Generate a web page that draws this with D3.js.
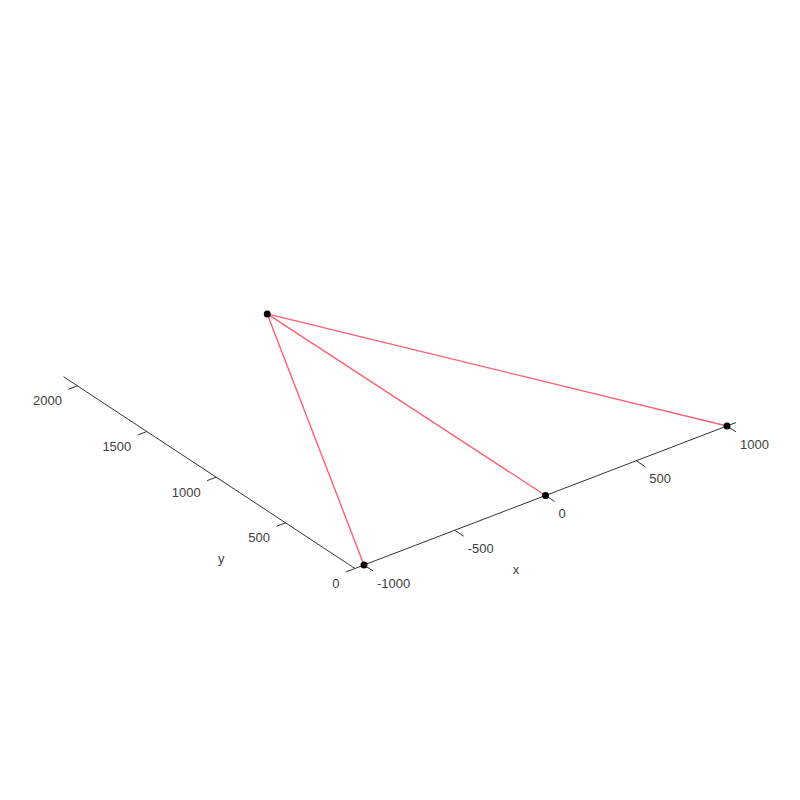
<!DOCTYPE html>
<html>
<head>
<meta charset="utf-8">
<script src="https://cdnjs.cloudflare.com/ajax/libs/d3/7.8.5/d3.min.js"></script>
<style>
  html, body { margin: 0; padding: 0; background: #fff; }
  svg { display: block; }
  text { font-family: "Liberation Sans", Arial, sans-serif; font-size: 13px; fill: #404040; }
</style>
</head>
<body>
<svg id="chart" width="800" height="800"></svg>
<script>
// data
var point_x = [-1000, 0, 1000, -8];
var point_y = [0, 0, 0, 1995];
var edge_from = [3, 3, 3];
var edge_to = [0, 1, 2];
var x_ticks = [-1000, -500, 0, 500, 1000];
var y_ticks = [0, 500, 1000, 1500, 2000];
var x_limits = [-1050, 1050];
var y_limits = [0, 2100];

var svg = d3.select("#chart");

// --------------------------------------------------------------------
// view from above: each data axis adds a shift on both screen directions
var x_to_h = d3.scaleLinear().domain([-1000, 1000]).range([0, 363]);
var x_to_v = d3.scaleLinear().domain([-1000, 1000]).range([0, -139]);
var y_to_h = d3.scaleLinear().domain([0, 2000]).range([0, -277.5]);
var y_to_v = d3.scaleLinear().domain([0, 2000]).range([0, -182.6]);
var origin = [364, 565];        // where x = -1000, y = 0 lands

function sx(x, y) { return origin[0] + x_to_h(x) + y_to_h(y); }
function sy(x, y) { return origin[1] + x_to_v(x) + y_to_v(y); }

function seg(parent, x1, y1, x2, y2, color, width)
{
  parent.append("line")
        .attr("x1", sx(x1, y1)).attr("y1", sy(x1, y1))
        .attr("x2", sx(x2, y2)).attr("y2", sy(x2, y2))
        .attr("stroke", color)
        .attr("stroke-width", width);
}

// ==================================================
// axes
var axis_color = "#333333";
var axes = svg.append("g");
seg(axes, x_limits[0], 0, x_limits[1], 0, axis_color, 1);
seg(axes, x_limits[0], y_limits[0], x_limits[0], y_limits[1], axis_color, 1);

x_ticks.forEach(function(t) {
  seg(axes, t, 0, t, -65, axis_color, 1);
  axes.append("text")
      .attr("x", sx(t, 0) + 13)
      .attr("y", sy(t, 0) + 18)
      .attr("dy", ".35em")
      .attr("text-anchor", "start")
      .text(t);
});

y_ticks.forEach(function(t) {
  seg(axes, x_limits[0], t, x_limits[0] - 50, t, axis_color, 1);
  axes.append("text")
      .attr("x", sx(x_limits[0], t) - 15.5)
      .attr("y", sy(x_limits[0], t) + 15)
      .attr("dy", ".35em")
      .attr("text-anchor", "end")
      .text(t);
});

// axis labels
axes.append("text")
    .attr("x", sx(0, 0) - 29.5)
    .attr("y", sy(0, 0) + 74)
    .attr("dy", ".35em")
    .attr("text-anchor", "middle")
    .text("x");

axes.append("text")
    .attr("x", sx(x_limits[0], 1050) + 12)
    .attr("y", sy(x_limits[0], 1050) + 85.5)
    .attr("dy", ".35em")
    .attr("text-anchor", "middle")
    .text("y");

// ==================================================
// red edges, dots on top
var edges = svg.append("g");
edge_from.forEach(function(a, i) {
  var b = edge_to[i];
  seg(edges, point_x[a], point_y[a], point_x[b], point_y[b], "#ff6070", 1.4);
});

svg.append("g")
   .selectAll("circle")
   .data(point_x)
   .enter()
   .append("circle")
   .attr("cx", function(d, i) { return sx(d, point_y[i]); })
   .attr("cy", function(d, i) { return sy(d, point_y[i]); })
   .attr("r", 3.5)
   .attr("fill", "#000");
</script>
</body>
</html>
